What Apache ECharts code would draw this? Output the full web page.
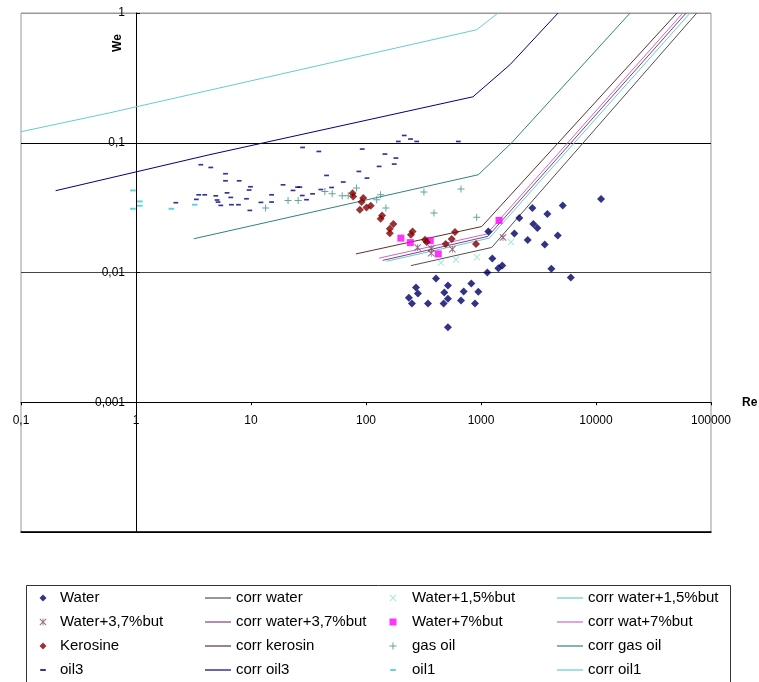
<!DOCTYPE html>
<html>
<head>
<meta charset="utf-8">
<script src="https://cdn.jsdelivr.net/npm/echarts@6.0.0/dist/echarts.min.js"></script>
<style>
html, body { margin: 0; padding: 0; background: #fff; }
#chart { width: 759px; height: 682px; }
</style>
</head>
<body>
<div id="chart"></div>
<script>
var dom = document.getElementById('chart');
var myChart = echarts.init(dom, null, { renderer: 'canvas' });

// tick labels (decimal comma, as in the original)
const xTickLabels = ['0,1', '1', '10', '100', '1000', '10000', '100000'];
const yTickLabels = ['', '0,001', '0,01', '0,1', '1'];

// measured points [Re, We]
const water = [
    [1158, 0.0207], [11070, 0.0368], [2797, 0.0314], [5140, 0.0329], [3776, 0.0282],
    [2153, 0.0263], [2851, 0.0236], [3090, 0.0220], [1950, 0.0200], [4648, 0.0193],
    [2547, 0.0178], [3583, 0.0164], [1254, 0.0128], [1531, 0.0113], [1416, 0.0108],
    [1135, 0.0100], [4093, 0.0107], [6036, 0.00915], [406, 0.0090], [272, 0.00766],
    [516, 0.00794], [824, 0.00823], [283, 0.00689], [480, 0.00702], [707, 0.00714],
    [948, 0.00710], [236, 0.00638], [516, 0.00627], [670, 0.00608], [251, 0.00577],
    [346, 0.00577], [473, 0.00577], [887, 0.00577], [516, 0.00379]
];
const water15 = [[449, 0.0119], [606, 0.0126], [923, 0.0131], [1824, 0.0172]];
const water37 = [[281, 0.0156], [369, 0.0153], [369, 0.0141], [563, 0.0151], [1553, 0.0186]];
const water7 = [[201, 0.0184], [243, 0.0170], [362, 0.0176], [425, 0.0139], [1435, 0.0252]];
const kerosine = [
    [76.4, 0.0409], [77.4, 0.0385], [94.6, 0.0375], [91.6, 0.0349], [110, 0.0327],
    [101, 0.0317], [88.5, 0.0304], [138, 0.0275], [134, 0.0259], [173, 0.0237],
    [161, 0.0217], [161, 0.0201], [254, 0.0207], [246, 0.0195], [326, 0.0179],
    [337, 0.0172], [493, 0.0166], [556, 0.0181], [594, 0.0205], [905, 0.0166]
];
const gasOil = [
    [13.4, 0.0314], [21.0, 0.0359], [25.7, 0.0359], [43.9, 0.0421], [50.8, 0.0404],
    [62.1, 0.0390], [70.0, 0.0390], [82.8, 0.0448], [124, 0.0364], [134, 0.0397],
    [149, 0.0314], [319, 0.0417], [390, 0.0287], [670, 0.0440], [917, 0.0267]
];
const oil3 = [
    [2.22, 0.0345], [3.66, 0.0677], [4.47, 0.0645], [6.0, 0.0577], [6.0, 0.0509],
    [7.89, 0.0509], [3.51, 0.0397], [3.96, 0.0397], [3.35, 0.0366], [4.94, 0.0390],
    [5.07, 0.0362], [5.17, 0.0349], [5.46, 0.0329], [6.19, 0.0411], [6.67, 0.0379],
    [6.76, 0.0333], [7.78, 0.0333], [9.14, 0.0370], [9.90, 0.0458], [9.63, 0.0432],
    [9.77, 0.0301], [12.2, 0.0347], [15.1, 0.0397], [15.1, 0.0349], [19.0, 0.0474],
    [23.2, 0.0429], [25.4, 0.0455], [26.6, 0.0455], [27.9, 0.0392], [30.4, 0.0364],
    [34.3, 0.0404], [28.1, 0.0920], [38.9, 0.0857], [45.4, 0.0560], [40.5, 0.0436],
    [50.2, 0.0452], [63.4, 0.0498], [86.7, 0.0601], [92.7, 0.0894], [102, 0.0534],
    [130, 0.0657], [146, 0.0818], [176, 0.0685], [182, 0.0762], [191, 0.1023],
    [215, 0.1138], [244, 0.1068], [276, 0.1023], [635, 0.1023]
];
const oil1 = [[0.94, 0.0429], [1.08, 0.0353], [1.08, 0.0327], [0.94, 0.0310], [2.03, 0.0310], [3.24, 0.0333]];

// correlation lines [Re, We]
const corrWater = [[246, 0.0113], [1239, 0.0156], [75200, 1.0]];
const corrWater15 = [[151, 0.0122], [1181, 0.0184], [65800, 1.0]];
const corrWater37 = [[140, 0.0124], [1150, 0.0190], [60800, 1.0]];
const corrWat7 = [[130, 0.0129], [1122, 0.0198], [56900, 1.0]];
const corrKerosin = [[81.7, 0.0139], [1014, 0.0226], [50500, 1.0]];
const corrGasOil = [[3.18, 0.0182], [948, 0.0567], [1850, 0.1], [19800, 1.0]];
const corrOil3 = [[0.2, 0.0427], [4.4, 0.081], [851, 0.226], [1790, 0.40], [4680, 1.0]];
const corrOil1 = [[0.1, 0.1216], [0.59, 0.170], [918, 0.743], [1406, 1.0]];

// marker shapes like the excel ones (paths so the legend keeps their aspect)
const diamond = 'path://M5,0L10,5L5,10L0,5Z';
const square = 'path://M0,0H10V10H0Z';
const crossX = 'path://M0,1L1,0L5,4L9,0L10,1L6,5L10,9L9,10L5,6L1,10L0,9L4,5Z';
const star = crossX + 'M4.5,0H5.5V10H4.5Z';
const plus = 'path://M4.3,0H5.7V4.3H10V5.7H5.7V10H4.3V5.7H0V4.3H4.3Z';
const dash = 'path://M0,0M10,10M1,3.6H9V6.4H1Z';

function scatter(name, data, symbol, size, color) {
    return { name: name, type: 'scatter', data: data, symbol: symbol, symbolSize: size,
        itemStyle: { color: color }, z: 3 };
}
function corr(name, data, color) {
    return { name: name, type: 'line', data: data, symbol: 'none', showSymbol: false,
        lineStyle: { color: color, width: 1 }, itemStyle: { color: color }, z: 2 };
}

const axisFont = { fontFamily: 'Liberation Sans, Arial, sans-serif', fontSize: 12, color: '#000' };
const legendFont = { fontFamily: 'Liberation Sans, Arial, sans-serif', fontSize: 15, color: '#000', lineHeight: 16 };
const legendBase = { orient: 'vertical', top: 590, padding: 0, itemGap: 8, selectedMode: false,
    symbolKeepAspect: true, textStyle: legendFont };

var option = {
    animation: false,
    backgroundColor: '#fff',
    grid: {
        left: 21, top: 13, width: 690, height: 519,
        show: true, borderColor: '#999', borderWidth: 1,
        containLabel: false, outerBoundsMode: 'none'
    },
    xAxis: [
        {
            type: 'log', logBase: 10, min: 0.1, max: 100000,
            position: 'bottom', offset: -129.75,
            name: 'Re', nameLocation: 'end', nameGap: 31,
            nameTextStyle: { fontFamily: 'Liberation Sans, Arial, sans-serif', fontSize: 12, fontWeight: 'bold', color: '#000', padding: [10, 0, 0, 0] },
            axisLine: { show: true, lineStyle: { color: '#000', width: 1 } },
            axisTick: { show: true, inside: false, length: 3, lineStyle: { color: '#000' } },
            minorTick: { show: false },
            splitLine: { show: false },
            axisLabel: Object.assign({
                margin: 12, showMinLabel: true, showMaxLabel: true,
                formatter: function (v) { return xTickLabels[Math.round(Math.log10(v)) + 1] || ''; }
            }, axisFont)
        },
        {
            type: 'log', logBase: 10, min: 0.1, max: 100000, position: 'bottom',
            axisLine: { show: true, lineStyle: { color: '#000', width: 1.5 } },
            axisTick: { show: false }, axisLabel: { show: false }, splitLine: { show: false }
        }
    ],
    yAxis: {
        type: 'log', logBase: 10, min: 0.0001, max: 1,
        position: 'left', offset: -115,
        name: 'We', nameLocation: 'end', nameGap: -30, nameRotate: 90,
        nameTextStyle: { fontFamily: 'Liberation Sans, Arial, sans-serif', fontSize: 12, fontWeight: 'bold', color: '#000',
            align: 'center', verticalAlign: 'bottom', padding: [0, 0, 12, 0] },
        axisLine: { show: true, lineStyle: { color: '#000', width: 1 } },
        axisTick: { show: true, inside: true, length: 4, lineStyle: { color: '#000' } },
        minorTick: { show: false },
        splitLine: { show: true, lineStyle: { color: ['#000', '#000', '#444', '#000', '#999'], width: 1 } },
        axisLabel: Object.assign({
            margin: 11, showMinLabel: true, showMaxLabel: true,
            formatter: function (v) { return yTickLabels[Math.round(Math.log10(v)) + 4] || ''; }
        }, axisFont)
    },
    legend: [
        Object.assign({ left: 39.5, itemWidth: 24, itemHeight: 7,
            data: ['Water', 'Water+3,7%but', 'Kerosine', 'oil3'] }, legendBase),
        Object.assign({ left: 205, itemWidth: 26, itemHeight: 1.2, icon: 'rect',
            data: ['corr water', 'corr water+3,7%but', 'corr kerosin', 'corr oil3'] }, legendBase),
        Object.assign({ left: 389.5, itemWidth: 28, itemHeight: 7,
            data: ['Water+1,5%but', 'Water+7%but', 'gas oil', 'oil1'] }, legendBase),
        Object.assign({ left: 557, itemWidth: 26, itemHeight: 1.2, icon: 'rect',
            data: ['corr water+1,5%but', 'corr wat+7%but', 'corr gas oil', 'corr oil1'] }, legendBase)
    ],
    graphic: [{
        type: 'rect', left: 24, top: 583, silent: true,
        shape: { width: 704, height: 97 },
        style: { fill: 'none', stroke: '#333', lineWidth: 1 }
    }],
    series: [
        corr('corr water', corrWater, '#505050'),
        corr('corr water+1,5%but', corrWater15, '#66cccc'),
        corr('corr water+3,7%but', corrWater37, '#804080'),
        corr('corr wat+7%but', corrWat7, '#cc66cc'),
        corr('corr kerosin', corrKerosin, '#603030'),
        corr('corr gas oil', corrGasOil, '#338080'),
        corr('corr oil3', corrOil3, '#000080'),
        corr('corr oil1', corrOil1, '#66cccc'),
        scatter('Water', water, diamond, 8, '#000066'),
        scatter('Water+1,5%but', water15, crossX, 7, '#99dddd'),
        scatter('Water+3,7%but', water37, star, 7, '#804060'),
        scatter('Water+7%but', water7, square, 7, '#ff00ff'),
        scatter('Kerosine', kerosine, diamond, 8, '#800000'),
        scatter('gas oil', gasOil, plus, 7, '#3a8f80'),
        scatter('oil3', oil3, dash, 6, '#000080'),
        scatter('oil1', oil1, dash, 7, '#33cccc')
    ]
};

myChart.setOption(option);
window.addEventListener('resize', myChart.resize);
</script>
</body>
</html>
